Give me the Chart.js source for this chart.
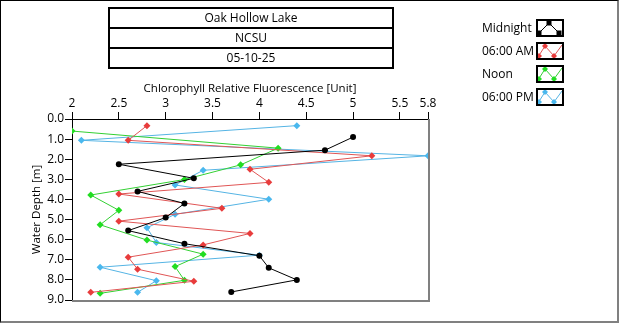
<!DOCTYPE html>
<html>
<head>
<meta charset="utf-8">
<script src="https://cdn.jsdelivr.net/npm/chart.js@4"></script>
<style>
  body { margin: 0; background: #fff; font-family: "Open Sans", sans-serif; }
  #frame { position: absolute; left: 0; top: 0; width: 616px; height: 320px;
    border-left: 1px solid #000; border-top: 1px solid #000;
    border-right: 2px solid #808080; border-bottom: 2px solid #808080; }
  #wrap { position: absolute; left: 0; top: 0; width: 620px; height: 324px; }
  #heading { position: absolute; left: 108px; top: 7px; width: 282px; border: 2px solid #000; }
  #heading div { height: 18px; line-height: 18px; text-align: center; font-size: 12px; color: #000; }
  #heading div + div { border-top: 2px solid #000; }
  .leg { position: absolute; left: 482px; font-size: 12px; color: #000; height: 18px; line-height: 18px; }
  .leg canvas { position: absolute; left: 54px; top: 0; border: 2px solid #000; background: #fff; }
</style>
</head>
<body>
<div id="wrap"><canvas id="chart" width="620" height="324"></canvas></div>
<div id="frame"></div>
<div id="heading">
  <div>Oak Hollow Lake</div>
  <div>NCSU</div>
  <div>05-10-25</div>
</div>
<div id="legend"></div>
<script>
// series: depth [m] and fluorescence value per point
const seriesNames = ['Midnight', '06:00 AM', 'Noon', '06:00 PM'];

const midnightDepth = [0.9, 1.55, 2.25, 2.95, 3.6, 4.2, 4.9, 5.55, 6.2, 6.8, 7.4, 8.0, 8.6];
const midnightVal = [5.0, 4.7, 2.5, 3.3, 2.7, 3.2, 3.0, 2.6, 3.2, 4.0, 4.1, 4.4, 3.7];

const amDepth = [0.33, 1.06, 1.83, 2.5, 3.15, 3.73, 4.44, 5.08, 5.69, 6.26, 6.87, 7.47, 8.07, 8.62];
const amVal = [2.8, 2.6, 5.2, 3.9, 4.1, 2.5, 3.6, 2.5, 3.9, 3.4, 2.6, 2.7, 3.3, 2.2];

const noonDepth = [0.6, 1.45, 2.28, 3.01, 3.78, 4.54, 5.26, 6.02, 6.72, 7.34, 8.02, 8.67];
const noonVal = [2.0, 4.2, 3.8, 3.2, 2.2, 2.5, 2.3, 2.8, 3.4, 3.1, 3.2, 2.3];

const pmDepth = [0.33, 1.06, 1.83, 2.55, 3.28, 3.99, 4.74, 5.41, 6.14, 6.77, 7.37, 8.04, 8.62];
const pmVal = [4.4, 2.1, 5.8, 3.4, 3.1, 4.1, 3.1, 2.8, 2.9, 4.0, 2.3, 2.9, 2.7];

const xTicks = [2, 2.5, 3, 3.5, 4, 4.5, 5, 5.5, 5.8];

const lineColors = ['#000000', '#e05555', '#33d033', '#55b4e4'];
const dotColors = ['#000000', '#e83c3c', '#22dd22', '#4ab8ee'];

function pts(vals, depths) {
  return vals.map((v, i) => ({ x: v, y: depths[i] }));
}

const allData = [
  pts(midnightVal, midnightDepth),
  pts(amVal, amDepth),
  pts(noonVal, noonDepth),
  pts(pmVal, pmDepth)
];

const datasets = allData.map((d, i) => ({
  label: seriesNames[i],
  data: d,
  showLine: true,
  borderColor: lineColors[i],
  borderWidth: 1,
  backgroundColor: dotColors[i],
  pointBorderWidth: 0,
  pointRadius: i === 0 ? 3 : 3.5,
  pointStyle: i === 0 ? 'circle' : 'rectRot',
  tension: 0
}));

// gray right/bottom edge of plot
const plotEdge = {
  id: 'plotEdge',
  afterDraw(chart) {
    const a = chart.chartArea, c = chart.ctx;
    c.save();
    c.strokeStyle = '#808080';
    c.lineWidth = 2;
    c.beginPath();
    c.moveTo(a.right + 1, a.top);
    c.lineTo(a.right + 1, a.bottom + 1);
    c.lineTo(a.left, a.bottom + 1);
    c.stroke();
    c.restore();
  }
};

const font = { family: 'Open Sans', size: 12 };
const titleFont = { family: 'Open Sans', size: 11.5 };

new Chart(document.getElementById('chart'), {
  type: 'scatter',
  data: { datasets },
  plugins: [plotEdge],
  options: {
    responsive: false,
    animation: false,
    layout: { padding: { left: 28, top: 80, right: 192, bottom: 24 } },
    plugins: { legend: { display: false }, tooltip: { enabled: false } },
    scales: {
      x: {
        position: 'top',
        min: 2, max: 5.8,
        afterBuildTicks: s => { s.ticks = xTicks.map(v => ({ value: v })); },
        afterFit: s => { s.height = 39; },
        ticks: { font, color: '#000', padding: 1, autoSkip: false, maxRotation: 0,
          callback: v => String(v) },
        grid: { drawOnChartArea: false, tickLength: 7, color: '#000' },
        border: { color: '#000', width: 1 },
        title: { display: true, text: 'Chlorophyll Relative Fluorescence [Unit]',
          font: titleFont, color: '#000', padding: { top: 2, bottom: 0 } }
      },
      y: {
        reverse: true,
        min: 0, max: 9,
        afterFit: s => { s.width = 44; },
        ticks: { stepSize: 1, font, color: '#000', padding: 1, callback: v => v.toFixed(1) },
        grid: { drawOnChartArea: false, tickLength: 7, color: '#000' },
        border: { color: '#000', width: 1 },
        title: { display: true, text: 'Water Depth [m]',
          font: titleFont, color: '#000', padding: { top: 2, bottom: 0 } }
      }
    }
  }
});

// legend rows with little sample icons
const legend = document.getElementById('legend');
seriesNames.forEach((name, i) => {
  const row = document.createElement('div');
  row.className = 'leg';
  row.style.top = (19 + i * 23) + 'px';
  row.textContent = name;
  const cv = document.createElement('canvas');
  cv.width = 24; cv.height = 14;
  row.appendChild(cv);
  legend.appendChild(row);
  const c = cv.getContext('2d');
  c.strokeStyle = lineColors[i];
  c.fillStyle = dotColors[i];
  c.lineWidth = 1;
  let path, marks;
  if (i === 0) {
    path = [[1, 12], [11, 2], [21, 12]];
    marks = path;
  } else {
    path = [[0, 13], [7, 2], [16, 12], [24, 1]];
    marks = [[7, 2], [16, 12], [1, 12]];
  }
  c.beginPath();
  path.forEach((p, k) => k ? c.lineTo(p[0], p[1]) : c.moveTo(p[0], p[1]));
  c.stroke();
  marks.forEach(p => {
    if (i === 0) {
      c.fillRect(p[0] - 2.5, p[1] - 2.5, 5, 5);
    } else {
      c.beginPath();
      c.moveTo(p[0], p[1] - 3); c.lineTo(p[0] + 3, p[1]);
      c.lineTo(p[0], p[1] + 3); c.lineTo(p[0] - 3, p[1]);
      c.closePath(); c.fill();
    }
  });
});
</script>
</body>
</html>
